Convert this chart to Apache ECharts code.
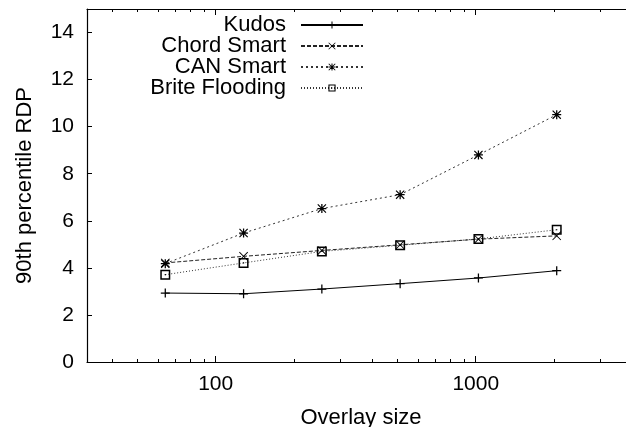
<!DOCTYPE html>
<html>
<head>
<meta charset="utf-8">
<script src="https://cdn.jsdelivr.net/npm/echarts@6/dist/echarts.min.js"></script>
<style>html,body{margin:0;padding:0;background:#fff}#c{width:626px;height:427px}</style>
</head>
<body>
<div id="c"></div>
<script>
const overlaySizes = [64, 128, 256, 512, 1024, 2048];
const kudos = [2.93, 2.90, 3.10, 3.33, 3.57, 3.88];
const chordSmart = [4.21, 4.49, 4.74, 4.98, 5.22, 5.36];
const canSmart = [4.18, 5.48, 6.52, 7.11, 8.80, 10.51];
const briteFlooding = [3.71, 4.21, 4.70, 4.96, 5.23, 5.62];
const seriesNames = ['Kudos', 'Chord Smart', 'CAN Smart', 'Brite Flooding'];
const xMajorTicks = [100, 1000];
const xMinorTicks = [40, 50, 60, 70, 80, 90, 200, 300, 400, 500, 600, 700, 800, 900, 2000, 3000, 4000];
const yTicks = [0, 2, 4, 6, 8, 10, 12, 14];

const FONT = 'Liberation Sans';
const plusPath = 'path://M4.3,0H5.7V4.3H10V5.7H5.7V10H4.3V5.7H0V4.3H4.3Z';
const crossPath = 'path://M0,0.7L0.7,0L10,9.3L9.3,10ZM9.3,0L10,0.7L0.7,10L0,9.3Z';
const starPath = 'path://M4.3,0H5.7V4.3H10V5.7H5.7V10H4.3V5.7H0V4.3H4.3ZM0,0.9L0.9,0L10,9.1L9.1,10ZM9.1,0L10,0.9L0.9,10L0,9.1Z';
const squarePath = 'path://M0,0H10V10H0ZM1.5,1.5V8.5H8.5V1.5ZM4.4,4.4H5.6V5.6H4.4Z';

function pairs(vals) { return overlaySizes.map((x, i) => [x, vals[i]]); }

const chart = echarts.init(document.getElementById('c'), null, {renderer: 'canvas'});

const xBase = {
  type: 'log', logBase: 10, min: 32, max: 4096, gridIndex: 0,
  splitLine: {show: false}
};
const axisLineStyle = {color: '#000', width: 1.2};

const seriesDefs = [
  {name: seriesNames[0], data: kudos, symbol: plusPath, size: [9, 9], line: {type: 'solid', color: '#000', width: 1}},
  {name: seriesNames[1], data: chordSmart, symbol: crossPath, size: [9, 9], line: {type: [4, 2], color: '#222', width: 1}},
  {name: seriesNames[2], data: canSmart, symbol: starPath, size: [9, 9], line: {type: [2, 3], color: '#333', width: 1}},
  {name: seriesNames[3], data: briteFlooding, symbol: squarePath, size: [10, 10], line: {type: [1, 2], color: '#333', width: 1}}
];

const legendTops = [14, 35, 56, 77];

const option = {
  animation: false,
  backgroundColor: '#fff',
  textStyle: {fontFamily: FONT},
  grid: {left: 87, top: 9, width: 548, bottom: 65, containLabel: false, outerBoundsMode: 'none'},
  legend: seriesDefs.map((s, i) => ({
    data: [s.name],
    orient: 'vertical',
    right: 262,
    top: legendTops[i],
    align: 'right',
    itemWidth: 62,
    itemHeight: 9,
    padding: 0,
    selectedMode: false,
    textStyle: {fontFamily: FONT, fontSize: 22, color: '#000', padding: [0, 10, 0, 0]}
  })),
  xAxis: [
    Object.assign({}, xBase, {
      position: 'bottom',
      name: 'Overlay size', nameLocation: 'middle', nameGap: 45,
      nameTextStyle: {fontFamily: FONT, fontSize: 22, color: '#000'},
      axisLine: {show: true, lineStyle: axisLineStyle},
      axisTick: {show: true, inside: true, length: 6, customValues: xMajorTicks, lineStyle: {color: '#000'}},
      axisLabel: {show: true, customValues: xMajorTicks, formatter: v => String(Math.round(v)), fontFamily: FONT, fontSize: 21, color: '#000', margin: 12}
    }),
    Object.assign({}, xBase, {
      position: 'bottom',
      axisLine: {show: false},
      axisTick: {show: true, inside: true, length: 3, customValues: xMinorTicks, lineStyle: {color: '#000'}},
      axisLabel: {show: false}
    }),
    Object.assign({}, xBase, {
      position: 'top',
      axisLine: {show: true, lineStyle: axisLineStyle},
      axisTick: {show: true, inside: true, length: 6, customValues: xMajorTicks, lineStyle: {color: '#000'}},
      axisLabel: {show: false}
    }),
    Object.assign({}, xBase, {
      position: 'top',
      axisLine: {show: false},
      axisTick: {show: true, inside: true, length: 3, customValues: xMinorTicks, lineStyle: {color: '#000'}},
      axisLabel: {show: false}
    })
  ],
  yAxis: [{
    type: 'value', min: 0, max: 15,
    name: '90th percentile RDP', nameLocation: 'middle', nameGap: 51, nameRotate: 90,
    nameTextStyle: {fontFamily: FONT, fontSize: 22, color: '#000'},
    axisLine: {show: true, lineStyle: axisLineStyle},
    axisTick: {show: true, inside: true, length: 5, customValues: yTicks, lineStyle: {color: '#000'}},
    axisLabel: {show: true, customValues: yTicks, fontFamily: FONT, fontSize: 21, color: '#000', margin: 13},
    splitLine: {show: false}
  }],
  series: seriesDefs.map(s => ({
    type: 'line',
    name: s.name,
    xAxisIndex: 0, yAxisIndex: 0,
    data: pairs(s.data),
    symbol: s.symbol,
    symbolSize: s.size,
    symbolKeepAspect: true,
    showAllSymbol: true,
    itemStyle: {color: '#000', borderWidth: 0},
    lineStyle: s.line,
    emphasis: {disabled: true}
  }))
};
chart.setOption(option);
</script>
</body>
</html>
